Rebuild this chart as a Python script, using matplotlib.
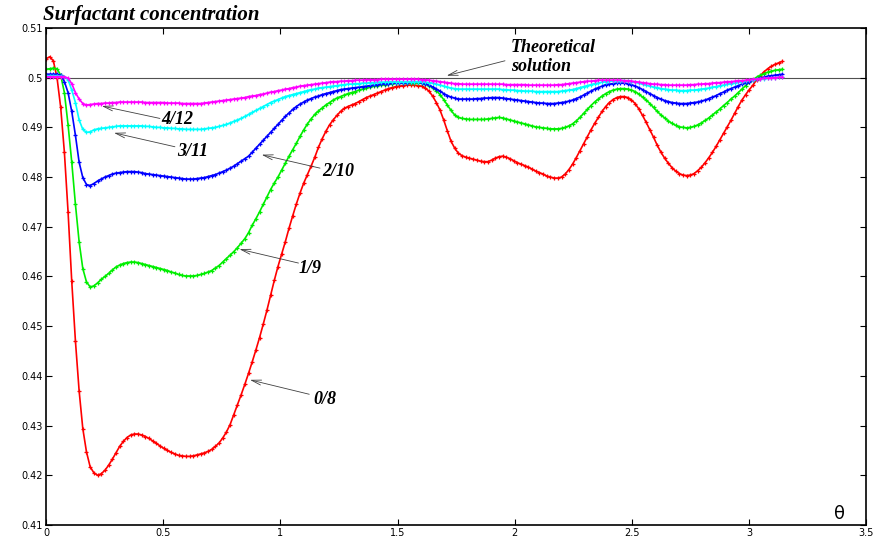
import numpy as np
import matplotlib
matplotlib.use("Agg")
import matplotlib.pyplot as plt

# Surfactant concentration along theta, sampled on 201 points from 0 to pi
theta = np.linspace(0.0, np.pi, 201)

conc_0_8 = [
    0.5038, 0.5042, 0.5034, 0.5000, 0.4940, 0.4850, 0.4730, 0.4590, 0.4470, 0.4370,
    0.4294, 0.4247, 0.4217, 0.4205, 0.4200, 0.4203, 0.4210, 0.4220, 0.4232, 0.4245,
    0.4258, 0.4268, 0.4276, 0.4281, 0.4283, 0.4283, 0.4281, 0.4278, 0.4274, 0.4269,
    0.4264, 0.4259, 0.4254, 0.4250, 0.4246, 0.4243, 0.4240, 0.4239, 0.4238, 0.4238,
    0.4239, 0.4241, 0.4243, 0.4245, 0.4248, 0.4252, 0.4258, 0.4265, 0.4275, 0.4287,
    0.4302, 0.4322, 0.4342, 0.4362, 0.4383, 0.4405, 0.4428, 0.4452, 0.4477, 0.4504,
    0.4532, 0.4562, 0.4592, 0.4620, 0.4645, 0.4670, 0.4697, 0.4722, 0.4746, 0.4768,
    0.4788, 0.4805, 0.4822, 0.4840, 0.4860, 0.4877, 0.4892, 0.4905, 0.4915, 0.4924,
    0.4932, 0.4938, 0.4942, 0.4945, 0.4948, 0.4952, 0.4956, 0.4960, 0.4963, 0.4966,
    0.4969, 0.4972, 0.4975, 0.4978, 0.4980, 0.4982, 0.4983, 0.4984, 0.4985, 0.4985,
    0.4985, 0.4984, 0.4983, 0.4979, 0.4973, 0.4963, 0.4950, 0.4935, 0.4915, 0.4893,
    0.4872, 0.4858, 0.4848, 0.4843, 0.4840, 0.4838, 0.4836, 0.4834, 0.4832, 0.4831,
    0.4831, 0.4834, 0.4838, 0.4841, 0.4842, 0.4840, 0.4837, 0.4833, 0.4829, 0.4826,
    0.4823, 0.4820, 0.4816, 0.4812, 0.4809, 0.4806, 0.4802, 0.4800, 0.4798, 0.4798,
    0.4800, 0.4806, 0.4815, 0.4826, 0.4839, 0.4853, 0.4867, 0.4881, 0.4895, 0.4908,
    0.4920, 0.4932, 0.4942, 0.4950, 0.4956, 0.4960, 0.4962, 0.4962, 0.4960, 0.4955,
    0.4948, 0.4937, 0.4924, 0.4910, 0.4895, 0.4880, 0.4864, 0.4850, 0.4838, 0.4828,
    0.4819, 0.4812, 0.4807, 0.4804, 0.4803, 0.4804, 0.4807, 0.4813, 0.4820, 0.4829,
    0.4839, 0.4850, 0.4862, 0.4875, 0.4888, 0.4901, 0.4914, 0.4928, 0.4942, 0.4955,
    0.4966, 0.4976, 0.4985, 0.4996, 0.5004, 0.5012, 0.5018, 0.5023, 0.5027, 0.5030,
    0.5033,
]

conc_1_9 = [
    0.5017, 0.5018, 0.5019, 0.5018, 0.5005, 0.4970, 0.4905, 0.4830, 0.4745, 0.4670,
    0.4616, 0.4589, 0.4579, 0.4581, 0.4587, 0.4594, 0.4600, 0.4606, 0.4613, 0.4619,
    0.4623, 0.4626, 0.4628, 0.4629, 0.4629, 0.4628, 0.4626, 0.4624, 0.4622, 0.4620,
    0.4618, 0.4616, 0.4614, 0.4612, 0.4609, 0.4607, 0.4604, 0.4602, 0.4601, 0.4601,
    0.4601, 0.4602, 0.4604, 0.4606, 0.4609, 0.4612, 0.4617, 0.4622, 0.4629, 0.4636,
    0.4643, 0.4650, 0.4658, 0.4667, 0.4676, 0.4688, 0.4703, 0.4716, 0.4730, 0.4745,
    0.4760, 0.4775, 0.4788, 0.4800, 0.4814, 0.4828, 0.4842, 0.4855, 0.4868, 0.4882,
    0.4895, 0.4907, 0.4917, 0.4926, 0.4933, 0.4939, 0.4945, 0.4950, 0.4955, 0.4959,
    0.4962, 0.4965, 0.4968, 0.4970, 0.4972, 0.4975, 0.4977, 0.4979, 0.4981, 0.4983,
    0.4984, 0.4985, 0.4986, 0.4987, 0.4988, 0.4989, 0.4989, 0.4990, 0.4990, 0.4990,
    0.4990, 0.4990, 0.4989, 0.4987, 0.4984, 0.4980, 0.4974, 0.4966, 0.4956, 0.4945,
    0.4934, 0.4925, 0.4920, 0.4918, 0.4917, 0.4916, 0.4916, 0.4916, 0.4916, 0.4916,
    0.4917, 0.4918, 0.4919, 0.4920, 0.4919, 0.4917, 0.4915, 0.4913, 0.4911, 0.4909,
    0.4907, 0.4905, 0.4903, 0.4901, 0.4900, 0.4899, 0.4898, 0.4897, 0.4897, 0.4897,
    0.4898, 0.4900, 0.4903, 0.4907, 0.4913, 0.4920, 0.4928, 0.4936, 0.4944, 0.4951,
    0.4957, 0.4963, 0.4968, 0.4972, 0.4975, 0.4977, 0.4978, 0.4978, 0.4977, 0.4975,
    0.4972, 0.4967, 0.4961, 0.4955, 0.4948, 0.4940, 0.4932, 0.4925, 0.4919, 0.4913,
    0.4908, 0.4904, 0.4901, 0.4900, 0.4899, 0.4900, 0.4902, 0.4905, 0.4909, 0.4914,
    0.4919, 0.4925, 0.4931, 0.4937, 0.4944, 0.4950, 0.4957, 0.4963, 0.4970, 0.4977,
    0.4984, 0.4991, 0.4996, 0.5001, 0.5005, 0.5008, 0.5011, 0.5013, 0.5015, 0.5016,
    0.5017,
]

conc_2_10 = [
    0.5007, 0.5007, 0.5007, 0.5007, 0.5005, 0.4992, 0.4970, 0.4932, 0.4884, 0.4830,
    0.4799, 0.4785, 0.4783, 0.4787, 0.4792, 0.4796, 0.4800, 0.4803, 0.4806, 0.4808,
    0.4809, 0.4810, 0.4811, 0.4811, 0.4811, 0.4810, 0.4809, 0.4807, 0.4806, 0.4805,
    0.4804, 0.4803, 0.4802, 0.4801, 0.4800, 0.4799, 0.4798, 0.4797, 0.4796, 0.4796,
    0.4796, 0.4797, 0.4798, 0.4799, 0.4801, 0.4803, 0.4805, 0.4808, 0.4811, 0.4814,
    0.4818, 0.4822, 0.4827, 0.4832, 0.4837, 0.4842, 0.4850, 0.4858, 0.4866, 0.4874,
    0.4882, 0.4890, 0.4898, 0.4906, 0.4914, 0.4922, 0.4929, 0.4936, 0.4942, 0.4947,
    0.4951, 0.4955, 0.4958, 0.4961, 0.4963, 0.4966, 0.4968, 0.4970, 0.4972, 0.4974,
    0.4976, 0.4977, 0.4978, 0.4979, 0.4980, 0.4981, 0.4982, 0.4983, 0.4984, 0.4985,
    0.4986, 0.4987, 0.4988, 0.4988, 0.4989, 0.4989, 0.4990, 0.4990, 0.4990, 0.4991,
    0.4991, 0.4991, 0.4990, 0.4988, 0.4985, 0.4981, 0.4977, 0.4973, 0.4968, 0.4964,
    0.4961, 0.4959, 0.4957, 0.4957, 0.4957, 0.4957, 0.4957, 0.4958, 0.4958, 0.4959,
    0.4959, 0.4960, 0.4960, 0.4960, 0.4959, 0.4958, 0.4957, 0.4956, 0.4955, 0.4954,
    0.4953, 0.4952, 0.4951, 0.4950, 0.4949, 0.4949, 0.4948, 0.4948, 0.4948, 0.4949,
    0.4950, 0.4951, 0.4953, 0.4955, 0.4958, 0.4961, 0.4965, 0.4969, 0.4973, 0.4977,
    0.4980, 0.4983, 0.4986, 0.4987, 0.4988, 0.4989, 0.4989, 0.4989, 0.4988, 0.4986,
    0.4983, 0.4980, 0.4976, 0.4972, 0.4968, 0.4964, 0.4960, 0.4957, 0.4954, 0.4952,
    0.4950, 0.4949, 0.4948, 0.4948, 0.4948, 0.4949, 0.4950, 0.4951, 0.4953, 0.4955,
    0.4958, 0.4961, 0.4964, 0.4968, 0.4971, 0.4975, 0.4978, 0.4981, 0.4984, 0.4987,
    0.4990, 0.4992, 0.4995, 0.4997, 0.4999, 0.5001, 0.5003, 0.5004, 0.5005, 0.5006,
    0.5007,
]

conc_3_11 = [
    0.5004, 0.5004, 0.5004, 0.5004, 0.5003, 0.5002, 0.4996, 0.4975, 0.4950, 0.4915,
    0.4896, 0.4890, 0.4891, 0.4895, 0.4897, 0.4898, 0.4899, 0.4900, 0.4901, 0.4902,
    0.4903, 0.4903, 0.4903, 0.4903, 0.4903, 0.4903, 0.4903, 0.4902, 0.4902, 0.4901,
    0.4900, 0.4900, 0.4899, 0.4899, 0.4898, 0.4898, 0.4897, 0.4897, 0.4896, 0.4896,
    0.4896, 0.4896, 0.4896, 0.4897, 0.4898, 0.4899, 0.4900, 0.4902, 0.4904, 0.4906,
    0.4909, 0.4912, 0.4915, 0.4918, 0.4922, 0.4926, 0.4930, 0.4934, 0.4938, 0.4942,
    0.4946, 0.4950, 0.4953, 0.4956, 0.4959, 0.4962, 0.4964, 0.4966, 0.4968, 0.4970,
    0.4972, 0.4974, 0.4976, 0.4977, 0.4979, 0.4980, 0.4981, 0.4982, 0.4983, 0.4984,
    0.4985, 0.4986, 0.4987, 0.4987, 0.4988, 0.4988, 0.4989, 0.4989, 0.4990, 0.4990,
    0.4991, 0.4991, 0.4991, 0.4992, 0.4992, 0.4992, 0.4992, 0.4992, 0.4992, 0.4992,
    0.4992, 0.4992, 0.4992, 0.4991, 0.4990, 0.4989, 0.4987, 0.4985, 0.4983, 0.4981,
    0.4979, 0.4978, 0.4977, 0.4977, 0.4977, 0.4977, 0.4977, 0.4977, 0.4977, 0.4977,
    0.4977, 0.4977, 0.4977, 0.4977, 0.4976, 0.4976, 0.4975, 0.4975, 0.4974, 0.4974,
    0.4973, 0.4973, 0.4973, 0.4972, 0.4972, 0.4972, 0.4972, 0.4972, 0.4972, 0.4972,
    0.4973, 0.4974, 0.4975, 0.4976, 0.4978, 0.4980, 0.4982, 0.4984, 0.4986, 0.4988,
    0.4989, 0.4991, 0.4992, 0.4993, 0.4994, 0.4994, 0.4994, 0.4994, 0.4993, 0.4992,
    0.4991, 0.4989, 0.4987, 0.4985, 0.4983, 0.4981, 0.4980, 0.4978, 0.4977, 0.4976,
    0.4975, 0.4975, 0.4974, 0.4974, 0.4974, 0.4975, 0.4975, 0.4976, 0.4977, 0.4978,
    0.4979, 0.4981, 0.4982, 0.4984, 0.4985, 0.4987, 0.4988, 0.4989, 0.4991, 0.4992,
    0.4993, 0.4995, 0.4996, 0.4997, 0.4998, 0.4998, 0.4999, 0.5000, 0.5000, 0.5001,
    0.5001,
]

conc_4_12 = [
    0.5002, 0.5002, 0.5002, 0.5002, 0.5002, 0.5002, 0.4999, 0.4988, 0.4970, 0.4957,
    0.4948, 0.4945, 0.4946, 0.4947, 0.4948, 0.4948, 0.4949, 0.4949, 0.4950, 0.4950,
    0.4951, 0.4951, 0.4951, 0.4951, 0.4951, 0.4951, 0.4951, 0.4950, 0.4950, 0.4950,
    0.4950, 0.4950, 0.4950, 0.4949, 0.4949, 0.4949, 0.4949, 0.4948, 0.4948, 0.4948,
    0.4948, 0.4948, 0.4948, 0.4949, 0.4950, 0.4951, 0.4952, 0.4953, 0.4954, 0.4955,
    0.4956, 0.4957, 0.4958, 0.4959, 0.4960, 0.4962, 0.4963, 0.4964, 0.4966, 0.4967,
    0.4969, 0.4971, 0.4972, 0.4974, 0.4975, 0.4977, 0.4978, 0.4980, 0.4981, 0.4983,
    0.4984, 0.4985, 0.4986, 0.4987, 0.4988, 0.4989, 0.4990, 0.4991, 0.4992, 0.4992,
    0.4993, 0.4993, 0.4994, 0.4994, 0.4995, 0.4995, 0.4995, 0.4996, 0.4996, 0.4996,
    0.4996, 0.4997, 0.4997, 0.4997, 0.4997, 0.4997, 0.4997, 0.4997, 0.4997, 0.4997,
    0.4997, 0.4997, 0.4996, 0.4996, 0.4995, 0.4994, 0.4993, 0.4992, 0.4991, 0.4990,
    0.4989, 0.4988, 0.4988, 0.4987, 0.4987, 0.4987, 0.4987, 0.4987, 0.4987, 0.4987,
    0.4987, 0.4987, 0.4987, 0.4987, 0.4987, 0.4986, 0.4986, 0.4986, 0.4986, 0.4986,
    0.4986, 0.4985, 0.4985, 0.4985, 0.4985, 0.4985, 0.4985, 0.4985, 0.4985, 0.4986,
    0.4986, 0.4987, 0.4988, 0.4989, 0.4990, 0.4991, 0.4992, 0.4993, 0.4993, 0.4994,
    0.4995, 0.4995, 0.4995, 0.4995, 0.4995, 0.4995, 0.4995, 0.4994, 0.4994, 0.4993,
    0.4992, 0.4991, 0.4990, 0.4989, 0.4988, 0.4987, 0.4987, 0.4986, 0.4986, 0.4985,
    0.4985, 0.4985, 0.4985, 0.4985, 0.4985, 0.4986, 0.4986, 0.4987, 0.4987, 0.4988,
    0.4988, 0.4989, 0.4990, 0.4990, 0.4991, 0.4992, 0.4992, 0.4993, 0.4994, 0.4994,
    0.4995, 0.4996, 0.4997, 0.4997, 0.4998, 0.4999, 0.4999, 0.5000, 0.5000, 0.5001,
    0.5001,
]

# Theoretical (uniform) concentration
theory_x = [0.0, 3.5]
theory_y = [0.5, 0.5]

series = [
    ("0/8", conc_0_8, "#ff0000"),
    ("1/9", conc_1_9, "#00ee00"),
    ("2/10", conc_2_10, "#0000ff"),
    ("3/11", conc_3_11, "#00ffff"),
    ("4/12", conc_4_12, "#ff00ff"),
]

x_ticks = [0, 0.5, 1, 1.5, 2, 2.5, 3, 3.5]
x_tick_labels = ["0", "0.5", "1", "1.5", "2", "2.5", "3", "3.5"]
y_ticks = [0.41, 0.42, 0.43, 0.44, 0.45, 0.46, 0.47, 0.48, 0.49, 0.50, 0.51]
y_tick_labels = ["0.41", "0.42", "0.43", "0.44", "0.45", "0.46", "0.47",
                 "0.48", "0.49", "0.5", "0.51"]

# Label text position and arrow (tail, tip) in data coordinates
labels = {
    "0/8": ((1.189, 0.4352), (1.123, 0.4363), (0.870, 0.4392)),
    "1/9": ((1.128, 0.4617), (1.077, 0.4627), (0.825, 0.4655)),
    "2/10": ((1.247, 0.4811), (1.169, 0.4818), (0.920, 0.4845)),
    "3/11": ((0.624, 0.4852), (0.550, 0.4861), (0.290, 0.4889)),
    "4/12": ((0.558, 0.4915), (0.486, 0.4918), (0.238, 0.4943)),
}

fig = plt.figure(figsize=(8.74, 5.37), dpi=100)
ax = fig.add_axes([0.0526, 0.0224, 0.9388, 0.9255])

ax.plot(theory_x, theory_y, color="#505050", lw=0.8, zorder=1)
for name, vals, col in series:
    ax.plot(theta, vals, color=col, lw=1.2, marker="+", markersize=3.2,
            markeredgewidth=0.9, zorder=2)

label_font = dict(family="Liberation Serif", weight="bold", style="italic",
                  size=13)
arrow_kw = dict(arrowstyle="->,head_length=0.7,head_width=0.18",
                color="#404040", lw=0.6, shrinkA=0, shrinkB=0)

for name, (txt_pos, tail, tip) in labels.items():
    ax.annotate("", xy=tip, xytext=tail, arrowprops=arrow_kw, zorder=3)
    ax.text(txt_pos[0], txt_pos[1], name, ha="center", va="center",
            **label_font)

ax.annotate("", xy=(1.709, 0.5004), xytext=(1.958, 0.5034),
            arrowprops=arrow_kw, zorder=3)
ax.text(1.984, 0.5042, "Theoretical\nsolution", ha="left", va="center",
        linespacing=1.15, **label_font)

ax.set_xlim(0, 3.5)
ax.set_ylim(0.41, 0.51)
ax.set_xticks(x_ticks)
ax.set_xticklabels(x_tick_labels)
ax.set_yticks(y_ticks)
ax.set_yticklabels(y_tick_labels)
ax.tick_params(direction="in", length=4, width=0.8, top=True, right=True,
               labelsize=7, pad=2)
for lab in ax.get_xticklabels() + ax.get_yticklabels():
    lab.set_family("DejaVu Sans")
for sp in ax.spines.values():
    sp.set_linewidth(1.2)

ax.text(3.387, 0.4122, "θ", ha="center", va="center", fontsize=13,
        family="DejaVu Sans")

fig.text(0.049, 0.972, "Surfactant concentration", ha="left", va="center",
         family="Liberation Serif", weight="bold", style="italic", size=15)

fig.savefig("out.png", dpi=100)
